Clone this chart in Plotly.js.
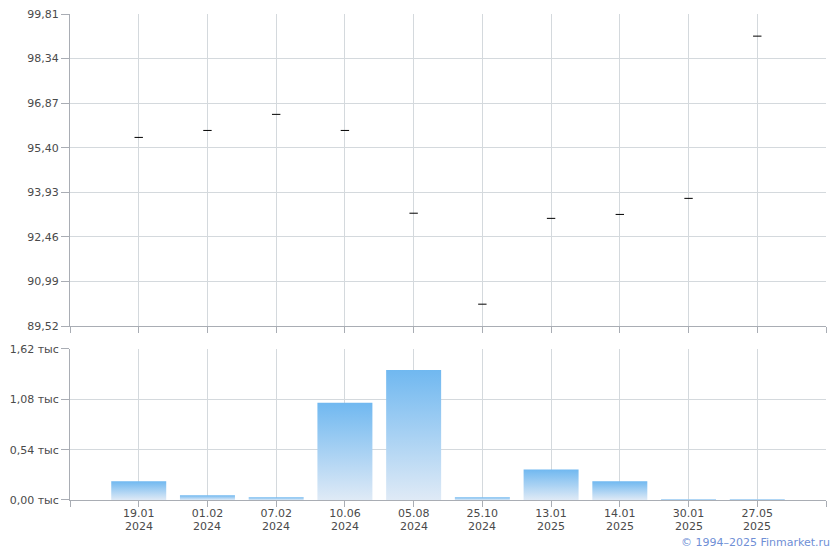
<!DOCTYPE html>
<html>
<head>
<meta charset="utf-8">
<script src="https://cdn.plot.ly/plotly-3.0.1.min.js"></script>
<style>
html,body{margin:0;padding:0;background:#fff;}
#chart{width:840px;height:550px;}
</style>
</head>
<body>
<div id="chart"></div>
<script>
// ---- data ----
const dates = ['19.01.2024','01.02.2024','07.02.2024','10.06.2024','05.08.2024','25.10.2024','13.01.2025','14.01.2025','30.01.2025','27.05.2025'];
const prices = [95.74, 95.97, 96.50, 95.97, 93.24, 90.24, 93.07, 93.20, 93.73, 99.08];
const volumes = [200, 50, 29, 1044, 1396, 29, 328, 200, 8, 8];
const priceTicks = [89.52, 90.99, 92.46, 93.93, 95.40, 96.87, 98.34, 99.81];
const volumeTicks = [0, 540, 1080, 1620];
const volumeTickText = ['0,00 тыс', '0,54 тыс', '1,08 тыс', '1,62 тыс'];

// ---- derived ----
const idx = dates.map((d, i) => i);
const xTickVals = [-1].concat(idx, [dates.length]);
const xTickText = [''].concat(dates.map(d => d.split('.').slice(0, 2).join('.')), ['']);
const years = dates.map(d => d.split('.')[2]);

const font = {family: 'Verdana, "DejaVu Sans", sans-serif', size: 11, color: '#4a4a4a'};
const axisCol = '#a9adb4';
const gridCol = '#d4d9dd';

const traces = [
  {
    type: 'scatter', mode: 'markers', x: idx, y: prices,
    xaxis: 'x2', yaxis: 'y2',
    marker: {symbol: 'line-ew', size: 6, color: '#000', line: {color: '#000', width: 1}},
    hoverinfo: 'x+y'
  },
  {
    type: 'bar', x: idx, y: volumes, xaxis: 'x', yaxis: 'y',
    width: 0.8,
    marker: {color: '#9ccaf2', line: {width: 0}},
    hoverinfo: 'y'
  }
];

const xBase = {
  type: 'linear', range: [-1, dates.length],
  tickmode: 'array', tickvals: xTickVals,
  showgrid: true, gridcolor: gridCol, gridwidth: 1,
  showline: true, linecolor: axisCol, linewidth: 1,
  ticks: 'outside', ticklen: 6, tickcolor: axisCol,
  zeroline: false, fixedrange: true
};

const yearAnnotations = years.map((yr, i) => ({
  xref: 'x', yref: 'paper', x: idx[i], y: -0.0535,
  xanchor: 'center', yanchor: 'middle', showarrow: false,
  text: yr, font: font
}));

const layout = {
  width: 840, height: 550,
  margin: {l: 70, r: 14, t: 14, b: 50},
  paper_bgcolor: '#fff', plot_bgcolor: '#fff',
  font: font,
  separators: ', ',
  showlegend: false,
  xaxis: Object.assign({}, xBase, {
    anchor: 'y', ticktext: xTickText, tickfont: font, ticklabelstandoff: -3
  }),
  xaxis2: Object.assign({}, xBase, {
    anchor: 'y2', matches: 'x', ticktext: xTickVals.map(() => ''), showticklabels: false
  }),
  yaxis: {
    domain: [0, 0.3107], anchor: 'x',
    range: [0, volumeTicks[volumeTicks.length - 1]],
    tickmode: 'array', tickvals: volumeTicks, ticktext: volumeTickText,
    showgrid: true, gridcolor: gridCol,
    showline: true, linecolor: axisCol, ticks: 'outside', ticklen: 8, tickcolor: axisCol,
    zeroline: false, tickfont: font, fixedrange: true
  },
  yaxis2: {
    domain: [0.358, 1], anchor: 'x2',
    range: [priceTicks[0], priceTicks[priceTicks.length - 1]],
    tickmode: 'array', tickvals: priceTicks, tickformat: '.2f',
    showgrid: true, gridcolor: gridCol,
    showline: true, linecolor: axisCol, ticks: 'outside', ticklen: 8, tickcolor: axisCol,
    zeroline: false, tickfont: font, fixedrange: true
  },
  annotations: yearAnnotations.concat([{
    xref: 'paper', yref: 'paper', x: 1.0079, y: -0.0875,
    xanchor: 'right', yanchor: 'middle', showarrow: false,
    text: '© 1994–2025 Finmarket.ru',
    font: {family: 'Verdana, "DejaVu Sans", sans-serif', size: 11, color: '#6f8fd6'}
  }])
};

Plotly.newPlot('chart', traces, layout, {displayModeBar: false, staticPlot: true}).then(gd => {
  const NS = 'http://www.w3.org/2000/svg';
  const svg = gd.querySelector('.main-svg');
  let defs = svg.querySelector('defs');
  if (!defs) { defs = document.createElementNS(NS, 'defs'); svg.insertBefore(defs, svg.firstChild); }
  const g = document.createElementNS(NS, 'linearGradient');
  g.setAttribute('id', 'barGrad');
  g.setAttribute('x1', '0'); g.setAttribute('y1', '0');
  g.setAttribute('x2', '0'); g.setAttribute('y2', '1');
  [['0', '#70b8f0'], ['1', '#dfeaf6']].forEach(([o, c]) => {
    const s = document.createElementNS(NS, 'stop');
    s.setAttribute('offset', o); s.setAttribute('stop-color', c);
    g.appendChild(s);
  });
  defs.appendChild(g);
  gd.querySelectorAll('.barlayer .point path').forEach(p => {
    p.style.fill = 'url(#barGrad)';
  });
});
</script>
</body>
</html>
